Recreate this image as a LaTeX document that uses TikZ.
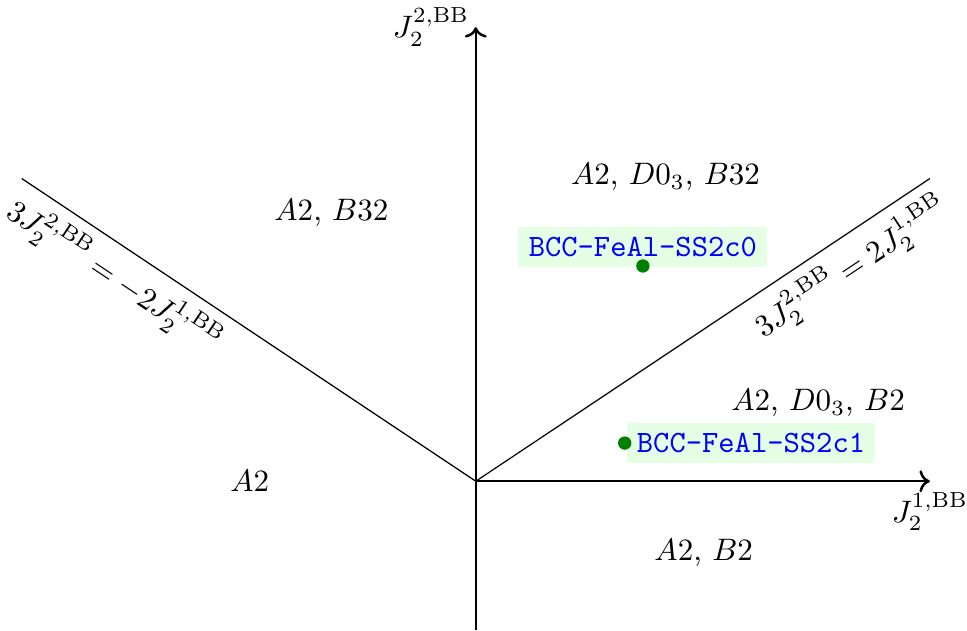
\documentclass[tikz,border=0pt]{standalone}
\usepackage{amsmath, amssymb}
\usepackage{tikz}
\usetikzlibrary{arrows.meta, positioning, calc}
\definecolor{PtGreen}{RGB}{0, 128, 0}

\begin{document}
\begin{tikzpicture}[scale=1.028,
	ax/.style={->, thick},
	bd/.style={thin},
	pt/.style={circle, fill=PtGreen, inner sep=0pt, minimum size=4.3pt},
	tag/.style={fill=green!10, text=blue, font=\ttfamily}]
	\useasboundingbox (-5.24,-1.64) rectangle (5.41,5.30);
	\coordinate (o) at (0,0);
	\coordinate (xe) at (5,0);
	\coordinate (ys) at (0,-1.64);
	\coordinate (ye) at (0,5);
	\coordinate (lb) at (-5,3.333);
	\coordinate (rb) at (5,3.333);
	\coordinate (p1) at (1.84,2.37);
	\coordinate (p2) at (1.64,0.42);
	% axes
	\draw[ax] (o) -- (xe) node[below] (xl) {$J_2^{1,\mathrm{BB}}$};
	\draw[ax] (ys) -- (ye) node[left=-1.6pt] (yl) {$J_2^{2,\mathrm{BB}}$};
	% phase boundaries
	\draw[bd] (lb) -- (o) node[pos=0.24, sloped, below] (ll) {$3J_2^{2,\mathrm{BB}} = -2J_2^{1,\mathrm{BB}}$};
	\draw[bd] (o) -- (rb) node[pos=0.79, sloped, below] (rl) {$3J_2^{2,\mathrm{BB}} = 2J_2^{1,\mathrm{BB}}$};
	% regions
	\node (r1) at (2.09,3.35) {$A2$, $D0_3$, $B32$};
	\node (r2) at (-1.59,2.95) {$A2$, $B32$};
	\node (r3) at (3.77,0.86) {$A2$, $D0_3$, $B2$};
	\node (r4) at (-2.49,0) {$A2$};
	\node (r5) at (2.51,-0.79) {$A2$, $B2$};
	% structures
	\node[tag, above=-0.6pt of p1] (t1) {BCC-FeAl-SS2c0};
	\node[tag, right=0.4pt of p2] (t2) {BCC-FeAl-SS2c1};
	\node[pt] (d1) at (p1) {};
	\node[pt] (d2) at (p2) {};
\end{tikzpicture}
\end{document}
